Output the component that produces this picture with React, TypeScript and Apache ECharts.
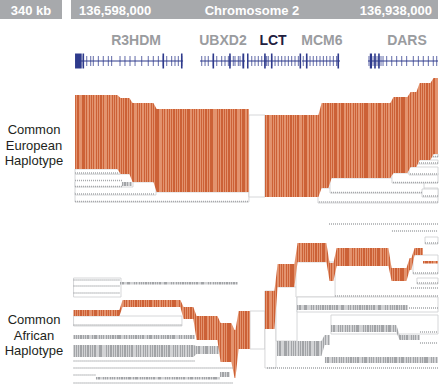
import React, { useEffect, useRef } from "react";
import * as echarts from "echarts";

// ---------- header / labels ----------
const spanLabel = "340 kb";
const chromLabels = ["136,598,000", "Chromosome 2", "136,938,000"];
const panelLabels = ["Common\nEuropean\nHaplotype", "Common\nAfrican\nHaplotype"];

// ---------- genes (positions in kb from 136,598,000) ----------
const geneNames = ["R3HDM", "UBXD2", "LCT", "MCM6", "DARS"];
const geneLabelKb = [58.7, 139.7, 186.3, 231.9, 311.1];
const geneStartKb = [1.9, 118.3, 162.1, 213.3, 274.8];
const geneEndKb = [102.5, 160.2, 211.4, 248.7, 340];
const geneBlockKb = [[1.9, 8.1], [157.8, 159.5], [162.1, 163.5], [211.0, 212.5], [276.5, 278.5]];
const geneExonsKb = [
  [9.6, 12.8, 16.5, 18.9, 23.6, 28.2, 32.9, 36.0, 43.8, 48.4, 53.1, 57.8, 64.0, 70.1, 74.8, 79.5, 84.1, 87.3, 91.9, 95.0, 98.1, 101.3],
  [119.9, 123.0, 126.0, 130.7, 133.9, 138.5, 141.6, 144.7, 146.2, 149.3, 150.9, 154.0, 155.6, 158.6],
  [166.5, 169.5, 172.6, 175.8, 178.8, 180.4, 181.9, 185.1, 188.2, 191.2, 194.4, 197.5, 200.6, 203.7, 206.8, 209.9],
  [214.5, 217.7, 220.8, 223.8, 227.0, 230.1, 233.2, 236.3, 239.4, 242.5, 245.6, 247.1],
  [275.7, 277.6, 279.5, 281.3, 283.2, 285.0, 286.9, 288.8, 292.2, 296.9, 301.5, 306.2, 310.8, 317.0, 321.7, 326.3, 331.0, 335.6, 338.8],
];
const geneMajorKb = [[9.6, 84.1, 101.3], [130.7, 146.2], [178.8, 185.1], [217.7, 247.1], [281.3, 285.0]];

// ---------- haplotype bands: [kb, top, bottom] steps, last entry = end ----------
// European panel
const euroOrange = [
  [[1.9, 95, 169], [42.8, 98, 174], [54.0, 103, 182], [76.4, 109, 192], [163.9, 109, 192]],
  [[178.8, 115, 197], [230.1, 103, 188], [239.4, 103, 178], [297.1, 97, 173], [313.0, 92, 167], [321.4, 83, 160], [334.4, 78, 154], [340, 78, 154]],
];
const euroWhite = [
  [[1.9, 192, 202], [163.9, 192, 202]],
  [[1.9, 182, 195], [77.3, 182, 195]],
  [[1.9, 174, 187], [55.9, 174, 187]],
  [[1.9, 169, 174], [43.8, 169, 174]],
  [[163.9, 115, 197], [178.8, 115, 197]],
  [[228.2, 188, 203], [340, 188, 203]],
  [[239.4, 178, 193], [327.0, 178, 193]],
  [[325.1, 189, 197], [340, 189, 197]],
  [[297.1, 173, 183], [340, 173, 183]],
  [[313.0, 167, 175], [340, 167, 175]],
  [[321.4, 160, 164], [340, 160, 164]],
  [[334.4, 154, 157], [340, 154, 157]],
];
const euroGrey = [[[45.6, 182, 186], [55.0, 182, 186]]];
const euroDots = [
  [1.9, 42.8, 173], [1.9, 45.6, 180.5], [1.9, 45.6, 186.5], [1.9, 76.4, 194], [1.9, 163.0, 201.5],
  [229.0, 340, 202], [240.3, 326.0, 192.5], [326.0, 340, 196], [298.1, 340, 182.5],
  [313.9, 340, 174], [322.3, 340, 163], [335.3, 340, 156.5],
];

// African panel
const afrOrange = [
  [[0.5, 310, 316], [44.7, 300, 307], [101.5, 307, 319], [113.6, 316, 340], [136.0, 323, 362], [149.0, 330, 378], [152.8, 311, 349], [164.9, 311, 349]],
  [[178.8, 291, 329], [189.1, 264, 287], [207.7, 243, 262], [237.5, 263, 281], [244.1, 248, 266], [295.3, 268, 281], [312.1, 258, 270], [316.7, 248, 255], [326.0, 248, 255]],
  [[326.0, 261, 263.5], [340, 261, 263.5]],
];
const afrWhite = [
  [[0.5, 278, 297], [44.7, 278, 297]],
  [[0.5, 316, 326], [101.5, 316, 326]],
  [[164.9, 311, 349], [178.8, 311, 349]],
  [[178.8, 291, 368], [189.1, 291, 368]],
  [[189.1, 287, 341], [208.7, 287, 341]],
  [[207.7, 262, 297], [244.1, 262, 297]],
  [[208.7, 297, 312], [340, 297, 312]],
  [[240.3, 315, 334], [340, 315, 334]],
  [[327.9, 237, 244], [340, 237, 244]],
  [[316.7, 255, 274], [340, 255, 274]],
  [[320.4, 278, 284], [340, 278, 284]],
];
const afrGrey = [
  [[43.8, 282, 284.5], [153.7, 282, 284.5]],
  [[0.5, 335, 339], [113.6, 335, 339]],
  [[0.5, 345, 357], [113.6, 346, 354], [136.0, 346, 354]],
  [[21.4, 377, 379.5], [136.9, 377, 379.5]],
  [[136.9, 372, 377], [146.0, 372, 377]],
  [[208.7, 305, 310], [312.1, 305, 310]],
  [[240.3, 325, 332], [302.7, 335, 340], [323.2, 335, 340]],
  [[190.0, 341, 356], [232.9, 335, 345], [239.4, 335, 345]],
  [[234.7, 357, 363], [340, 357, 363]],
];
const afrDots = [
  [0.5, 43.8, 280], [0.5, 43.8, 286], [0.5, 43.8, 293], [0.5, 101.5, 325], [0.5, 113.6, 361],
  [0.5, 149.0, 368], [0.5, 21.4, 375], [0.5, 149.0, 383],
  [180.7, 340, 368], [244.1, 340, 296], [238.5, 340, 224], [297.1, 340, 231], [327.9, 340, 243],
  [316.7, 340, 273], [320.4, 340, 283], [314.8, 340, 288], [313.0, 340, 308], [323.2, 340, 332], [323.2, 340, 343],
];

const STRIPE_W = [0.45, 0.65, 0.35, 0.7, 0.5, 0.3, 0.6, 0.4];

function stripeFill(dark: string, light: string, widthPx: number) {
  const n = Math.max(2, Math.round(widthPx / 2.3));
  const stops: any[] = [];
  for (let i = 0; i < n; i++) {
    const a = i / n;
    const m = (i + STRIPE_W[i % STRIPE_W.length]) / n;
    const b = (i + 1) / n;
    stops.push({ offset: a, color: dark }, { offset: m, color: dark }, { offset: m, color: light }, { offset: b, color: light });
  }
  return new echarts.graphic.LinearGradient(0, 0, 1, 0, stops);
}

function bandPoints(api: any, steps: number[][]) {
  const T = 1.6;
  const top: number[][] = [];
  const bot: number[][] = [];
  const n = steps.length;
  const P = steps.map((s) => [api.coord([s[0], s[1]]), api.coord([s[0], s[2]])]);
  top.push([P[0][0][0], P[0][0][1]]);
  bot.push([P[0][1][0], P[0][1][1]]);
  for (let i = 1; i < n; i++) {
    const x = P[i][0][0];
    if (i === n - 1) {
      top.push([x, P[i - 1][0][1]]);
      bot.push([x, P[i - 1][1][1]]);
    } else {
      top.push([x - T, P[i - 1][0][1]], [x + T, P[i][0][1]]);
      bot.push([x - T, P[i - 1][1][1]], [x + T, P[i][1][1]]);
    }
  }
  return top.concat(bot.reverse());
}

function bandSeries(bands: number[][][], kind: "orange" | "grey" | "white", z: number) {
  return {
    type: "custom",
    coordinateSystem: "cartesian2d",
    clip: false,
    silent: true,
    z,
    data: bands.map((b) => [b[0][0], b[0][1]]),
    renderItem: (params: any, api: any) => {
      const steps = bands[params.dataIndex];
      const pts = bandPoints(api, steps);
      const xs = pts.map((p) => p[0]);
      const w = Math.max(...xs) - Math.min(...xs);
      let style: any;
      if (kind === "orange") style = { fill: stripeFill("#cc6136", "#e3936e", w), stroke: null };
      else if (kind === "grey") style = { fill: stripeFill("#a2a4a7", "#d2d3d5", w), stroke: null };
      else style = { fill: "#ffffff", stroke: "#cbcdcf", lineWidth: 0.8 };
      return { type: "polygon", shape: { points: pts }, style };
    },
  };
}

function dotSeries(dots: number[][], z: number) {
  return {
    type: "custom",
    coordinateSystem: "cartesian2d",
    clip: false,
    silent: true,
    z,
    data: dots.map((d) => [d[0], d[2]]),
    renderItem: (params: any, api: any) => {
      const d = dots[params.dataIndex];
      const a = api.coord([d[0], d[2]]);
      const b = api.coord([d[1], d[2]]);
      return {
        type: "line",
        shape: { x1: a[0], y1: a[1], x2: b[0], y2: b[1] },
        style: { stroke: "#a3a5a8", lineWidth: 1.4, lineDash: [1, 1] },
      };
    },
  };
}

const GENE_Y = 61;
const LABEL_Y = 40;

function geneSeries() {
  return {
    type: "custom",
    coordinateSystem: "cartesian2d",
    clip: false,
    silent: true,
    z: 10,
    data: geneNames.map((g, i) => [geneStartKb[i], GENE_Y]),
    renderItem: (params: any, api: any) => {
      const i = params.dataIndex;
      const s = api.coord([geneStartKb[i], GENE_Y]);
      const e = api.coord([geneEndKb[i], GENE_Y]);
      const lbl = api.coord([geneLabelKb[i], LABEL_Y]);
      const color = "#2e3a8c";
      const children: any[] = [
        { type: "line", shape: { x1: s[0], y1: s[1], x2: e[0], y2: e[1] }, style: { stroke: color, lineWidth: 1 } },
      ];
      geneExonsKb[i].forEach((k) => {
        const p = api.coord([k, GENE_Y]);
        children.push({ type: "rect", shape: { x: p[0] - 0.5, y: p[1] - 5, width: 1, height: 10 }, style: { fill: color, opacity: 0.75 } });
      });
      geneMajorKb[i].forEach((k) => {
        const p = api.coord([k, GENE_Y]);
        children.push({ type: "rect", shape: { x: p[0] - 0.8, y: p[1] - 7.5, width: 1.6, height: 15 }, style: { fill: color } });
      });
      const b0 = api.coord([geneBlockKb[i][0], GENE_Y]);
      const b1 = api.coord([geneBlockKb[i][1], GENE_Y]);
      children.push({ type: "rect", shape: { x: b0[0], y: b0[1] - 7.5, width: b1[0] - b0[0], height: 15 }, style: { fill: color } });
      children.push({
        type: "text",
        style: {
          x: lbl[0], y: lbl[1], text: geneNames[i], align: "center", verticalAlign: "middle",
          fill: geneNames[i] === "LCT" ? "#1f2040" : "#9a9c9f",
          font: "bold 14px 'Liberation Sans', Arial, sans-serif",
        },
      });
      return { type: "group", children };
    },
  };
}

export default function App() {
  const ref = useRef<HTMLDivElement>(null);
  useEffect(() => {
    if (!ref.current) return;
    document.body.style.margin = "0";
    const chart = echarts.init(ref.current, null, { renderer: "svg" });
    const hdrFont = "bold 13px 'Liberation Sans', Arial, sans-serif";
    const lblFont = "13px 'Liberation Sans', Arial, sans-serif";
    chart.setOption({
      animation: false,
      backgroundColor: "#ffffff",
      grid: { left: 73, right: 2, top: 0, bottom: 0 },
      xAxis: { type: "value", min: 0, max: 340, show: false },
      yAxis: { type: "value", min: 0, max: 390, inverse: true, show: false },
      graphic: [
        { type: "rect", shape: { x: 0, y: 0, width: 62, height: 19 }, style: { fill: "#a7a9ac" } },
        { type: "rect", shape: { x: 71, y: 0, width: 367, height: 19 }, style: { fill: "#a7a9ac" } },
        { type: "text", style: { x: 31, y: 10, text: spanLabel, align: "center", verticalAlign: "middle", fill: "#fff", font: hdrFont } },
        { type: "text", style: { x: 79, y: 10, text: chromLabels[0], align: "left", verticalAlign: "middle", fill: "#fff", font: hdrFont } },
        { type: "text", style: { x: 252, y: 10, text: chromLabels[1], align: "center", verticalAlign: "middle", fill: "#fff", font: hdrFont } },
        { type: "text", style: { x: 432, y: 10, text: chromLabels[2], align: "right", verticalAlign: "middle", fill: "#fff", font: hdrFont } },
        { type: "text", style: { x: 34, y: 145, text: panelLabels[0], align: "center", verticalAlign: "middle", fill: "#231f20", font: lblFont, lineHeight: 15.5 } },
        { type: "text", style: { x: 34, y: 335, text: panelLabels[1], align: "center", verticalAlign: "middle", fill: "#231f20", font: lblFont, lineHeight: 15.5 } },
      ],
      series: [
        geneSeries(),
        bandSeries(euroWhite, "white", 1),
        bandSeries(afrWhite, "white", 1),
        bandSeries(euroGrey, "grey", 2),
        bandSeries(afrGrey, "grey", 2),
        bandSeries(euroOrange, "orange", 3),
        bandSeries(afrOrange, "orange", 3),
        dotSeries(euroDots, 4),
        dotSeries(afrDots, 4),
      ],
    });
    return () => chart.dispose();
  }, []);
  return <div ref={ref} style={{ position: "absolute", left: 0, top: 0, width: 440, height: 390 }} />;
}
